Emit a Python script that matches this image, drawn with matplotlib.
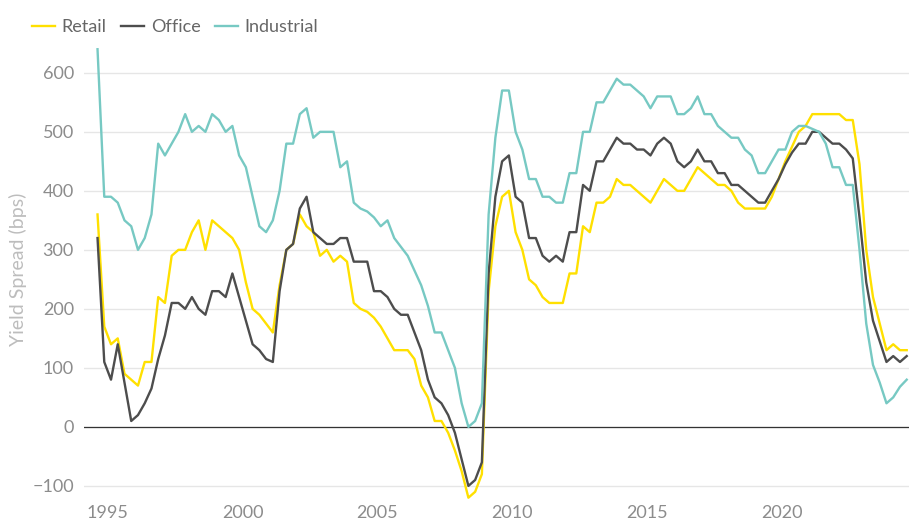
import matplotlib
matplotlib.use("Agg")
import matplotlib.pyplot as plt
import numpy as np

# quarterly yield spreads (bps), first quarter = mid 1994 Q3
start_year = 1994.625

retail = [360, 170, 140, 150, 90, 80, 70, 110, 110, 220,
          210, 290, 300, 300, 330, 350, 300, 350, 340, 330,
          320, 300, 245, 200, 190, 175, 160, 240, 300, 310,
          360, 340, 330, 290, 300, 280, 290, 280, 210, 200,
          195, 185, 170, 150, 130, 130, 130, 115, 70, 50,
          10, 10, -10, -40, -75, -120, -110, -80, 230, 340,
          390, 400, 330, 300, 250, 240, 220, 210, 210, 210,
          260, 260, 340, 330, 380, 380, 390, 420, 410, 410,
          400, 390, 380, 400, 420, 410, 400, 400, 420, 440,
          430, 420, 410, 410, 400, 380, 370, 370, 370, 370,
          390, 420, 450, 475, 500, 510, 530, 530, 530, 530,
          530, 520, 520, 445, 300, 220, 175, 130, 140, 130,
          130]

office = [320, 110, 80, 140, 75, 10, 20, 40, 65, 115,
          155, 210, 210, 200, 220, 200, 190, 230, 230, 220,
          260, 220, 180, 140, 130, 115, 110, 230, 300, 310,
          370, 390, 330, 320, 310, 310, 320, 320, 280, 280,
          280, 230, 230, 220, 200, 190, 190, 160, 130, 80,
          50, 40, 20, -10, -55, -100, -90, -60, 260, 390,
          450, 460, 390, 380, 320, 320, 290, 280, 290, 280,
          330, 330, 410, 400, 450, 450, 470, 490, 480, 480,
          470, 470, 460, 480, 490, 480, 450, 440, 450, 470,
          450, 450, 430, 430, 410, 410, 400, 390, 380, 380,
          400, 420, 445, 465, 480, 480, 500, 500, 490, 480,
          480, 470, 455, 355, 245, 180, 145, 110, 120, 110,
          120]

industrial = [640, 390, 390, 380, 350, 340, 300, 320, 360, 480,
              460, 480, 500, 530, 500, 510, 500, 530, 520, 500,
              510, 460, 440, 390, 340, 330, 350, 400, 480, 480,
              530, 540, 490, 500, 500, 500, 440, 450, 380, 370,
              365, 355, 340, 350, 320, 305, 290, 265, 240, 205,
              160, 160, 130, 100, 40, 0, 10, 40, 360, 490,
              570, 570, 500, 470, 420, 420, 390, 390, 380, 380,
              430, 430, 500, 500, 550, 550, 570, 590, 580, 580,
              570, 560, 540, 560, 560, 560, 530, 530, 540, 560,
              530, 530, 510, 500, 490, 490, 470, 460, 430, 430,
              450, 470, 470, 500, 510, 510, 505, 500, 480, 440,
              440, 410, 410, 300, 175, 105, 75, 40, 50, 68,
              80]

series_names = ["Retail", "Office", "Industrial"]
colors = ["#FFE000", "#4D4D4D", "#77C9C3"]
year_ticks = [1995, 2000, 2005, 2010, 2015, 2020]
y_ticks = [-100, 0, 100, 200, 300, 400, 500, 600]

dates = start_year + 0.25 * np.arange(len(retail))

plt.rcParams['font.family'] = ['Lato', 'DejaVu Sans']

fig = plt.figure(figsize=(9.09, 5.27), dpi=100)
ax = fig.add_axes([0.092, 0.05, 0.908, 0.879])

for name, vals, c in zip(series_names, [retail, office, industrial], colors):
    ax.plot(dates, vals, color=c, linewidth=1.7, label=name, zorder=3)

ax.set_xlim(1994.11, 2024.71)
ax.set_ylim(-125, 660)
ax.set_yticks(y_ticks)
ax.set_xticks(year_ticks)

# grid and zero line
ax.grid(axis='y', color='#e6e6e6', linewidth=1.0)
ax.set_axisbelow(True)
ax.axhline(0, color='#333333', linewidth=0.9, zorder=2)

for s in ax.spines.values():
    s.set_visible(False)
ax.tick_params(axis='both', length=0, labelsize=13, labelcolor='#8c8c8c')
ax.tick_params(axis='y', pad=7)
ax.tick_params(axis='x', pad=3)

ax.set_ylabel('Yield Spread (bps)', color='#bdbdbd', fontsize=14, labelpad=4)

fig.legend(loc='upper left', bbox_to_anchor=(0.017, 0.995), ncol=3, frameon=False,
           handlelength=1.3, handletextpad=0.35, columnspacing=0.8,
           fontsize=13, labelcolor='#666666')

fig.savefig('out.png', dpi=100)
